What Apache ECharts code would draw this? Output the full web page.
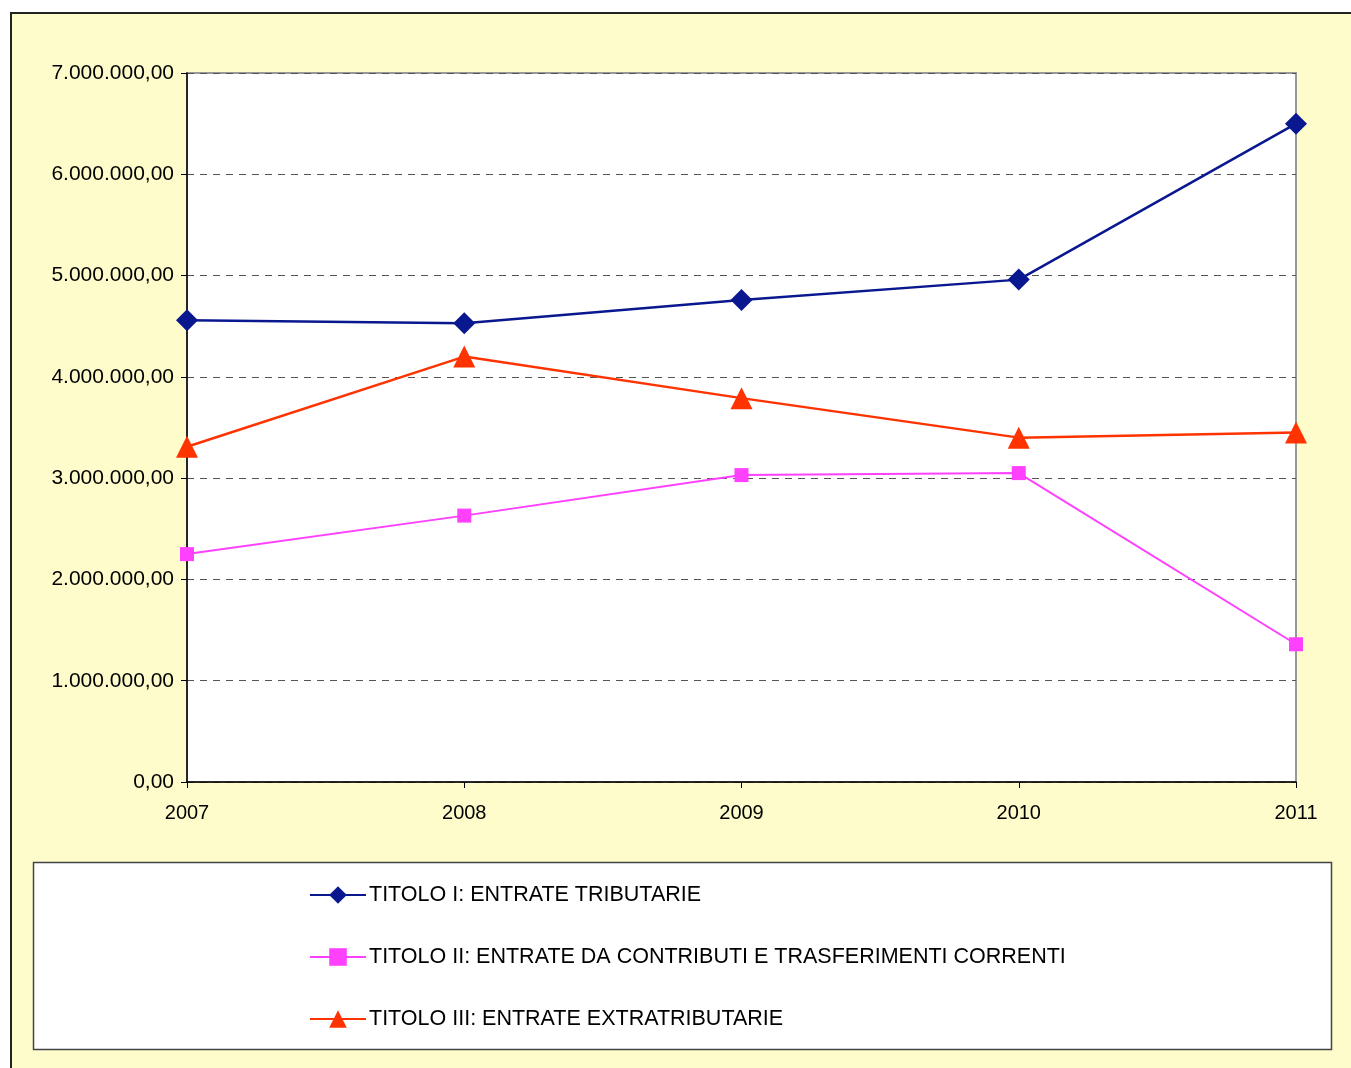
<!DOCTYPE html>
<html><head><meta charset="utf-8">
<script src="https://cdn.jsdelivr.net/npm/echarts@6/dist/echarts.min.js"></script>
<style>html,body{margin:0;padding:0;background:#fff}#c{width:1351px;height:1068px}</style>
</head><body><div id="c"></div>
<script>
var categories = ['2007','2008','2009','2010','2011'];
var titoloI = [4560000, 4530000, 4760000, 4960000, 6500000];
var titoloII = [2250000, 2630000, 3030000, 3050000, 1360000];
var titoloIII = [3310000, 4200000, 3790000, 3400000, 3450000];
var seriesNames = ['TITOLO I: ENTRATE TRIBUTARIE','TITOLO II: ENTRATE DA CONTRIBUTI E TRASFERIMENTI CORRENTI','TITOLO III: ENTRATE EXTRATRIBUTARIE'];

function fmt(v){
  var s = Math.round(v).toString().replace(/\B(?=(\d{3})+(?!\d))/g,'.');
  return s + ',00';
}
var font = 'Liberation Sans, Arial, sans-serif';
var chart = echarts.init(document.getElementById('c'));
chart.setOption({
  backgroundColor:'#ffffff',
  animation:false,
  graphic:[
    {type:'rect',z:-10,shape:{x:11,y:13,width:1400,height:1100},style:{fill:'#FFFCCC',stroke:'#222',lineWidth:2}},
    {type:'rect',z:-5,shape:{x:33.5,y:862.5,width:1298,height:187},style:{fill:'#ffffff',stroke:'#444',lineWidth:1.5}}
  ],
  grid:{left:187,right:55,top:73,bottom:286,show:true,backgroundColor:'#ffffff',borderColor:'#999',borderWidth:2},
  xAxis:{type:'category',data:categories,boundaryGap:false,
    axisLine:{lineStyle:{color:'#000',width:1.5}},
    axisTick:{show:true,length:6,lineStyle:{color:'#000'}},
    axisLabel:{color:'#000',fontSize:20,fontFamily:font,margin:21},
    splitLine:{show:false}},
  yAxis:{type:'value',min:0,max:7000000,interval:1000000,
    axisLine:{show:true,lineStyle:{color:'#000',width:1.5}},
    axisTick:{show:true,length:6,lineStyle:{color:'#000'}},
    axisLabel:{color:'#000',fontSize:21,fontFamily:font,margin:13,formatter:fmt},
    splitLine:{show:true,lineStyle:{color:'#555',type:[7,6],width:1}}},
  legend:{orient:'vertical',left:309,top:884,padding:0,itemGap:40,itemWidth:56,itemHeight:22,
    textStyle:{color:'#000',fontSize:21.5,lineHeight:22,fontFamily:font,padding:[0,0,0,-2]},
    data:seriesNames},
  series:[
    {name:seriesNames[0],type:'line',data:titoloI,symbol:'diamond',symbolSize:22,
     itemStyle:{color:'#0A1890'},lineStyle:{color:'#0A1890',width:2.5}},
    {name:seriesNames[1],type:'line',data:titoloII,symbol:'rect',symbolSize:14,
     itemStyle:{color:'#FF40FF'},lineStyle:{color:'#FF40FF',width:2}},
    {name:seriesNames[2],type:'line',data:titoloIII,symbol:'triangle',symbolSize:22,
     itemStyle:{color:'#FF3300'},lineStyle:{color:'#FF3300',width:2.5}}
  ]
});
</script></body></html>
